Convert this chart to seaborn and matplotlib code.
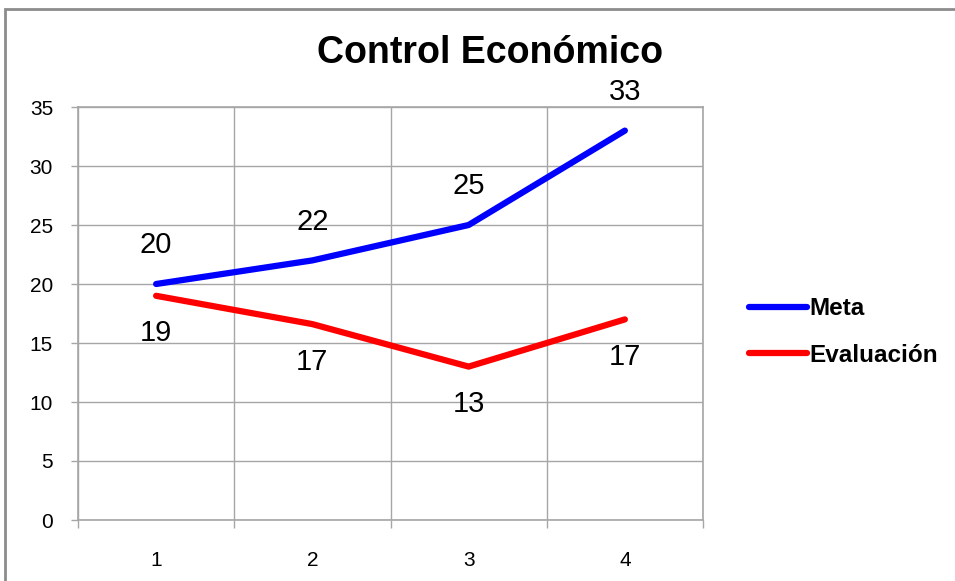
import pandas as pd
import numpy as np
import matplotlib
matplotlib.use("Agg")
import matplotlib.pyplot as plt
import matplotlib.patches as patches
from matplotlib.ticker import FixedLocator
import seaborn as sns

# ----------------------------
# Data
# ----------------------------

periods = [1, 2, 3, 4]
meta = [20, 22, 25, 33]
evaluacion = [19, 16.6, 13, 17]
series_names = ["Meta", "Evaluación"]
series_colors = ["#0000FF", "#FF0000"]

df = pd.DataFrame({
    "periodo": periods * 2,
    "valor": meta + evaluacion,
    "serie": [series_names[0]] * 4 + [series_names[1]] * 4,
})

# ----------------------------
# Style
# ----------------------------

sns.set_style("white")
plt.rcParams["font.family"] = ["Liberation Sans", "DejaVu Sans"]
plt.rcParams["text.color"] = "black"
tick_font = ["Liberation Sans Narrow", "Liberation Sans", "DejaVu Sans"]

fig = plt.figure(figsize=(9.55, 5.81), dpi=100)
ax = fig.add_axes([78 / 955, 1 - 520 / 581, 625 / 955, 413 / 581])

sns.lineplot(
    data=df,
    x="periodo",
    y="valor",
    hue="serie",
    palette=series_colors,
    linewidth=4.5,
    solid_capstyle="round",
    legend=False,
    ax=ax,
)

# data labels
for x, y in zip(periods, meta):
    ax.annotate(f"{y:.0f}", (x, y), xytext=(0, 28), textcoords="offset points",
                ha="center", va="center", fontsize=21, color="black")
for x, y in zip(periods, evaluacion):
    ax.annotate(f"{y:.0f}", (x, y), xytext=(0, -27), textcoords="offset points",
                ha="center", va="center", fontsize=21, color="black")

# axes
ax.set_xlim(0.5, 4.5)
ax.set_ylim(0, 35)
ax.set_yticks(np.arange(0, 36, 5))
ax.set_xticks(periods)
ax.xaxis.set_minor_locator(FixedLocator([0.5, 1.5, 2.5, 3.5, 4.5]))
ax.set_xlabel("")
ax.set_ylabel("")

ax.grid(False)
ax.yaxis.grid(True, which="major", color="#A6A6A6", linewidth=1)
ax.xaxis.grid(True, which="minor", color="#A6A6A6", linewidth=1)
for s in ax.spines.values():
    s.set_color("#A6A6A6")
    s.set_linewidth(1.2)

ax.tick_params(axis="y", which="major", left=True, length=5, width=1,
               color="#A6A6A6", pad=13, labelsize=15)
ax.tick_params(axis="x", which="major", bottom=False, length=0, pad=22, labelsize=15)
ax.tick_params(axis="x", which="minor", bottom=True, length=6, width=1, color="#A6A6A6")
for lab in ax.get_xticklabels() + ax.get_yticklabels():
    lab.set_family(tick_font)
    lab.set_color("black")

# title
fig.text(490 / 955, 1 - 53 / 581, "Control Económico", ha="center", va="center",
         fontsize=27, fontweight="bold", color="black")

# legend
handles = [plt.Line2D([], [], color=c, linewidth=4.5, solid_capstyle="round") for c in series_colors]
leg = fig.legend(handles, series_names, loc="center left",
                 bbox_to_anchor=(727 / 955, 1 - 332 / 581), frameon=False,
                 handlelength=2.4, handletextpad=0.1, labelspacing=0.95,
                 prop={"weight": "bold", "size": 17.5})
for t in leg.get_texts():
    t.set_color("black")

# chart area border
fig.patches.append(patches.Rectangle((5 / 955, -0.1), 1.2, 1.1 - 10 / 581 + 0.002,
                                     transform=fig.transFigure, fill=False,
                                     edgecolor="#8C8C8C", linewidth=2))

plt.savefig("out.png", dpi=100)
